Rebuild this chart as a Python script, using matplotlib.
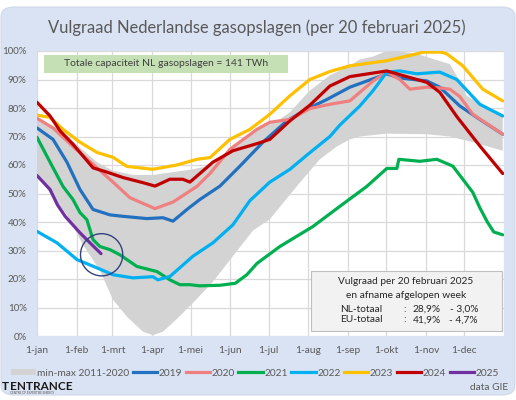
import numpy as np
import matplotlib
matplotlib.use('Agg')
import matplotlib.pyplot as plt
from matplotlib.patches import FancyBboxPatch, Ellipse, Rectangle, Patch
from matplotlib.lines import Line2D

plt.rcParams['font.family'] = ['Lato', 'DejaVu Sans']

# ---------------- data ----------------
month_days = [0, 31, 59, 90, 120, 151, 181, 212, 243, 273, 304, 334]
month_labels = ['1-jan', '1-feb', '1-mrt', '1-apr', '1-mei', '1-jun',
                '1-jul', '1-aug', '1-sep', '1-okt', '1-nov', '1-dec']
y_ticks = [0, 10, 20, 30, 40, 50, 60, 70, 80, 90, 100]

band_up_days = [0, 15.6, 31.3, 46.9, 59.4, 75, 90.6, 106.3, 121.9, 137.5, 150.8, 171.9,
                189.8, 197.7, 213, 229, 244.5, 252, 262.5, 271, 281.3, 296.9, 311, 322.7,
                328, 335.9, 348.4, 364]
band_up_vals = [76, 73, 67, 61, 58, 56.5, 56.5, 57.5, 58.5, 60, 65.5, 72.5,
                76, 78.5, 86, 91.5, 94.8, 97, 98, 99.6, 100, 99, 97, 95.4,
                91.3, 84.3, 80.7, 77.8]
band_low_days = [0, 12.5, 23.4, 35.9, 49.2, 59.4, 70.3, 82.8, 90.6, 98.4, 109.4, 121.9,
                 137.5, 153.1, 168.8, 182, 203, 221, 234.4, 244.5, 252.3, 273.4, 304.7,
                 322.7, 340.6, 364]
band_low_vals = [57, 48.5, 42.5, 32, 23, 12.7, 6.8, 1.5, 0.3, 1.5, 6, 11.6,
                 19, 28, 37, 41, 52.5, 62, 66.5, 69, 70, 71, 70.8,
                 70, 68, 65]

d2019 = [0, 12.5, 23.4, 33.6, 43.8, 57, 67, 85.9, 98.4, 106.3, 117.2, 127.3, 143, 158.6,
         176.6, 195.3, 211, 226.6, 244.5, 273.4, 283.6, 304.7, 314.8, 330.5, 346.1, 364]
v2019 = [73, 69, 61, 51.4, 44.4, 42.5, 42, 41.2, 41.5, 40.3, 44.4, 47.9, 52.6, 59.6,
         68, 75.5, 79.6, 83, 87.3, 92, 90.5, 89.5, 87.3, 80.7, 76, 70.8]

d2020 = [0, 12.5, 28.1, 46.9, 59.4, 72.7, 92.2, 106.3, 125, 135.2, 150.8, 171.9, 182,
         197.7, 213.3, 228.9, 244.5, 262.5, 273.4, 283.6, 291.4, 304.7, 316, 322.7, 330.5,
         340.6, 364]
v2020 = [76.4, 73, 66.5, 59, 54, 48.5, 44.7, 47, 52.5, 57, 65.5, 72.5, 75,
         76, 79.8, 81.3, 82.5, 89.4, 92.6, 90, 86.6, 87.3, 87, 86.6, 84,
         77.8, 70.8]

d2021 = [0, 10.2, 20.3, 28.1, 33.6, 39, 43.8, 49.2, 57, 64.8, 78.1, 93.8, 103.9, 111.7,
         119.5, 127.3, 143, 155, 164, 172, 189.8, 215.6, 236.7, 257.8, 273.4, 281.3,
         282.8, 299.2, 312.5, 325, 332.8, 340.6, 346.1, 352, 357, 364]
v2021 = [69.7, 61, 52.5, 47.9, 43.3, 40.8, 33.8, 31.4, 30.3, 28.5, 24.4, 22.6, 19.7, 18,
         18, 17.6, 17.8, 18.5, 21.5, 25.5, 31.4, 38.4, 45.5, 52.5, 58.8, 58.8,
         62, 61.3, 62, 59.6, 55, 50.4, 45, 40, 36.5, 35.5]

d2022 = [0, 15.6, 31.3, 46.9, 59.4, 75, 90.6, 94.5, 103.9, 121.9, 137.5, 153.1, 166.4,
         182, 197.7, 211, 228.9, 236.7, 252.3, 262.5, 273.4, 283.6, 296.9, 314.8, 328.1,
         346.1, 364]
v2022 = [36.7, 32.7, 26.8, 23.9, 21.5, 20.4, 20.8, 19.7, 20.9, 28, 32.7, 39, 47.5,
         54, 58.5, 63.5, 70, 74, 80.7, 86, 92.6, 93, 92, 92.6, 90,
         81.3, 77.2]

d2023 = [0, 10.2, 20.3, 33.6, 46.9, 59.4, 70.3, 90.6, 109.4, 125, 135.2, 150.8, 166.4,
         182, 197.7, 213.3, 228.9, 244.5, 273.4, 296.9, 301.6, 316, 320.3, 332.8, 348.4,
         364]
v2023 = [77.5, 76.7, 72.5, 68, 64.4, 62.7, 59.5, 58.5, 60, 62, 62.6, 69, 72.5,
         77.8, 84.3, 90, 92.8, 94.8, 96.6, 99, 99.6, 99.6, 99, 94.8, 86.6,
         82.5]

d2024 = [0, 10.2, 18, 28.1, 43.8, 54.7, 67.2, 82.8, 92.2, 103.9, 114, 119.5, 127.3,
         137.5, 153.1, 172.7, 182, 197.7, 213.3, 228.9, 244.5, 273.4, 289, 304.7, 314.8,
         328.1, 346.1, 364]
v2024 = [82, 77.2, 72, 67.3, 59, 57.5, 55.6, 53.8, 52.6, 55, 55, 54, 57,
         61, 65, 67.6, 69, 75.5, 81, 87.7, 91, 93, 91, 89, 85.5,
         77, 66.7, 57]

d2025 = [0, 10.2, 16, 22, 33.6, 41.4, 50]
v2025 = [56.3, 51.4, 46, 42, 36.2, 32.7, 28.9]

series = [
    ('2019', d2019, v2019, '#2270c0'),
    ('2020', d2020, v2020, '#f08080'),
    ('2021', d2021, v2021, '#00b050'),
    ('2022', d2022, v2022, '#00b0f0'),
    ('2023', d2023, v2023, '#ffc000'),
    ('2024', d2024, v2024, '#c00000'),
    ('2025', d2025, v2025, '#7030a0'),
]

TXT = '#595959'
W, H = 516, 400

def fx(px):
    return px / W

def fy(py):
    return 1 - py / H

fig = plt.figure(figsize=(W / 100, H / 100), dpi=100)
fig.patch.set_facecolor('white')
bg = FancyBboxPatch((fx(1), fy(395)), fx(514), (395 - 7) / H,
                    boxstyle='round,pad=0,rounding_size=0.025',
                    transform=fig.transFigure, facecolor='#dae3f3',
                    edgecolor='#cfd8ea', lw=0.8, zorder=-10)
fig.patches.append(bg)

ax = fig.add_axes([fx(37), fy(336), fx(504 - 37), (336 - 51) / H])
ax.set_facecolor('white')
for s in ax.spines.values():
    s.set_visible(False)
ax.set_xlim(0, 365)
ax.set_ylim(0, 100)
ax.set_xticks(month_days + [365])
ax.set_xticklabels(month_labels + [''])
ax.set_yticks(y_ticks)
ax.set_yticklabels([f'{v}%' for v in y_ticks])
ax.tick_params(length=0, colors=TXT, labelsize=7.3)
ax.tick_params(axis='y', pad=7.5, labelsize=7)
ax.tick_params(axis='x', pad=7)
ax.grid(True, color='#d9d9d9', lw=0.9)
ax.set_axisbelow(True)

# band
poly_x = list(band_up_days) + list(band_low_days[::-1])
poly_y = list(band_up_vals) + list(band_low_vals[::-1])
ax.fill(poly_x, poly_y, color='#d3d3d3', lw=0, zorder=1.5)

for name, d, v, c in series:
    ax.plot(d, v, color=c, lw=2.3, solid_capstyle='round', solid_joinstyle='round', zorder=3)

circ = Ellipse((50.5, 28.5), 33, 14.8, fill=False, edgecolor='#34427e', lw=1.0, zorder=4)
ax.add_patch(circ)

# title
fig.text(fx(257), fy(28), 'Vulgraad Nederlandse gasopslagen (per 20 februari 2025)',
         ha='center', va='center', fontsize=11.9, color=TXT)

# green capacity box
fig.patches.append(Rectangle((fx(44), fy(73)), fx(244), 18 / H, transform=fig.transFigure,
                             facecolor='#c5e0b4', edgecolor='none', zorder=5))
fig.text(fx(166), fy(64), 'Totale capaciteit NL gasopslagen = 141 TWh', ha='center',
         va='center', fontsize=7.5, color='#404040', zorder=6)

# info box
fig.patches.append(Rectangle((fx(311), fy(331)), fx(191), 60 / H, transform=fig.transFigure,
                             facecolor='#f2f2f2', edgecolor='#bfbfbf', lw=0.8, zorder=5))
ic = '#262626'
fs = 7.3
fig.text(fx(406), fy(281), 'Vulgraad per 20 februari 2025', ha='center', va='center',
         fontsize=fs, color=ic, zorder=6)
fig.text(fx(406), fy(295), 'en afname afgelopen week', ha='center', va='center',
         fontsize=fs, color=ic, zorder=6)
for yy, lab, v1, v2 in [(309, 'NL-totaal', '28,9%', '- 3,0%'),
                        (320, 'EU-totaal', '41,9%', '- 4,7%')]:
    fig.text(fx(340), fy(yy), lab, ha='left', va='center', fontsize=fs, color=ic, zorder=6)
    fig.text(fx(403), fy(yy), ':', ha='left', va='center', fontsize=fs, color=ic, zorder=6)
    fig.text(fx(413), fy(yy), v1, ha='left', va='center', fontsize=fs, color=ic, zorder=6)
    fig.text(fx(478), fy(yy), v2, ha='right', va='center', fontsize=fs, color=ic, zorder=6)

# legend
handles = [Patch(facecolor='#d3d3d3', edgecolor='none', label='min-max 2011-2020')]
for name, d, v, c in series:
    handles.append(Line2D([0], [0], color=c, lw=2.3, label=name))
leg = fig.legend(handles=handles, loc='center', bbox_to_anchor=(fx(255), fy(373)),
                 ncol=8, frameon=False, fontsize=7.3, handlelength=2.4,
                 handletextpad=0.15, columnspacing=0.35, handleheight=0.6)
for t in leg.get_texts():
    t.set_color(TXT)

# logo and source
fig.text(fx(10), fy(386), 'ENTRANCE', ha='left', va='center', fontsize=8.5,
         fontweight='bold', color='#1a1a1a')
fig.text(fx(10), fy(393), 'CENTRE OF EXPERTISE ENERGY', ha='left', va='center',
         fontsize=2.2, color='#555555')
fig.text(fx(1.5), fy(386), 'T', ha='left', va='center', fontsize=8.5,
         fontweight='bold', color='#1a1a1a')
fig.text(fx(508), fy(388), 'data GIE', ha='right', va='center', fontsize=7.3, color=TXT)

fig.savefig('out.png', dpi=100, facecolor='white')
